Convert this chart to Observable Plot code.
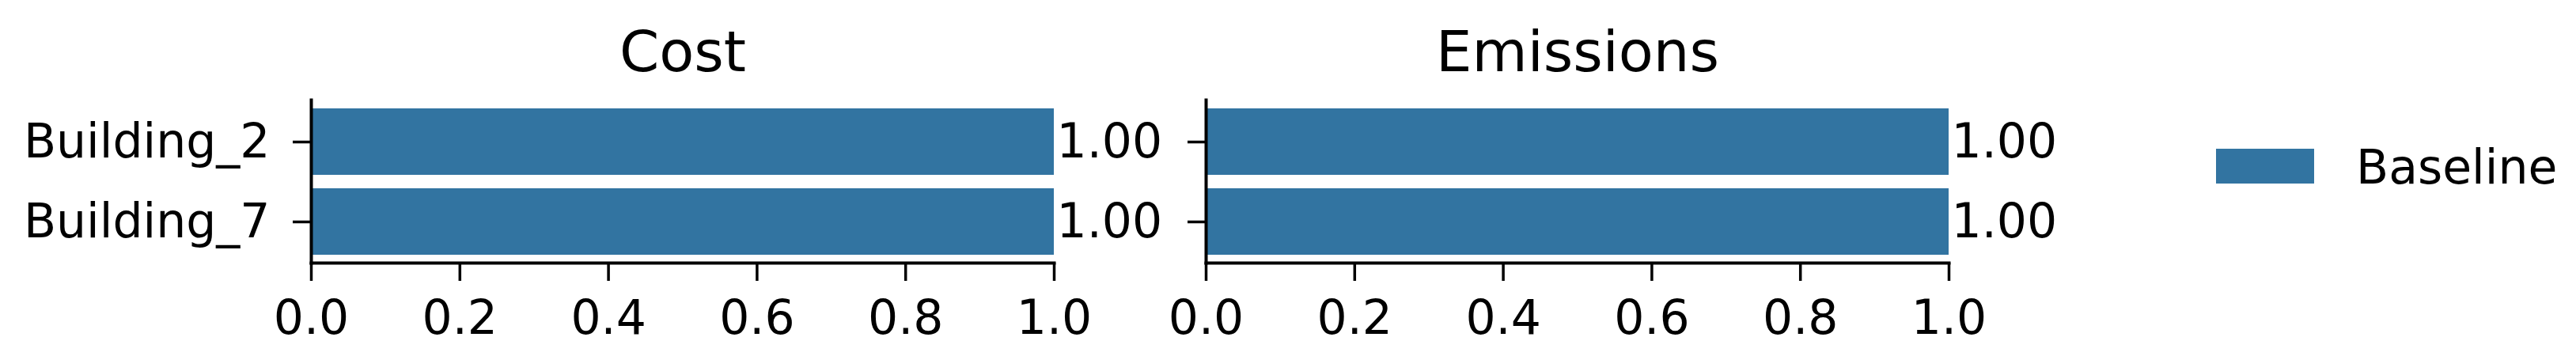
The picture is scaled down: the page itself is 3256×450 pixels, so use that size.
<!DOCTYPE html>
<html>
<head>
<meta charset="utf-8">
<script src="https://cdn.jsdelivr.net/npm/d3@7"></script>
<script src="https://cdn.jsdelivr.net/npm/@observablehq/plot@0.6"></script>
<style>
  body { margin: 0; background: #fff; }
  #chart { position: relative; width: 3256px; height: 450px; background: #fff; font-family: "DejaVu Sans", sans-serif; }
  #chart .panel { position: absolute; top: 0; }
  #chart .panel svg { background: transparent; }
  .legend { position: absolute; left: 2801px; top: 0; height: 450px; }
  .legend .sw { position: absolute; left: 0; top: 188px; width: 124px; height: 44px; }
  .legend .lb { position: absolute; left: 177px; top: 181px; font-size: 60px; line-height: 60px; color: #000; white-space: nowrap; font-family: "DejaVu Sans", sans-serif; }
</style>
</head>
<body>
<div id="chart"></div>
<script>
// ---- data ----
const buildings = ["Building_2", "Building_7"];
const metrics = ["Cost", "Emissions"];
const series = ["Baseline"];
const seriesColors = ["#3274a1"];
const costValues = [1.00, 1.00];
const emissionValues = [1.00, 1.00];
const xTicks = [0, 0.2, 0.4, 0.6, 0.8, 1.0];

const panelValues = [costValues, emissionValues];

// ---- layout of the two panels ----
const panelLayout = [
  {left: 0, width: 1470, marginLeft: 393, marginRight: 138, showLabels: true},
  {left: 1470, width: 1200, marginLeft: 54, marginRight: 207, showLabels: false}
];

const chart = document.getElementById("chart");

metrics.forEach((metric, mi) => {
  const L = panelLayout[mi];
  const rows = buildings.map((b, i) => ({building: b, value: panelValues[mi][i], series: series[0]}));
  const plot = Plot.plot({
    width: L.width,
    height: 450,
    marginLeft: L.marginLeft,
    marginRight: L.marginRight,
    marginTop: 126,
    marginBottom: 118,
    style: {fontFamily: "DejaVu Sans, sans-serif", background: "transparent", color: "#000", overflow: "visible"},
    x: {domain: [0, 1], axis: null},
    y: {domain: buildings, paddingInner: 0.17, paddingOuter: 0.095, axis: null},
    color: {domain: series, range: seriesColors},
    marks: [
      Plot.barX(rows, {x: "value", y: "building", fill: "series"}),
      Plot.text(rows, {x: "value", y: "building", text: d => d.value.toFixed(2), textAnchor: "start", dx: 3, fontSize: 60, fill: "#000"}),
      Plot.frame({anchor: "bottom", stroke: "#000", strokeWidth: 4}),
      Plot.frame({anchor: "left", stroke: "#000", strokeWidth: 4}),
      Plot.axisX({ticks: xTicks, tickFormat: d3.format(".1f"), tickSize: 23, tickPadding: 24, fontSize: 60, strokeWidth: 3.5, stroke: "#000", fill: "#000", label: null}),
      Plot.axisY({tickSize: 23, tickPadding: 29, fontSize: 60, strokeWidth: 3.5, stroke: "#000", fill: "#000", label: null,
        tickFormat: L.showLabels ? (d => d) : (() => "")}),
      Plot.text([metric], {frameAnchor: "top", lineAnchor: "bottom", dy: -37, fontSize: 72, fill: "#000"})
    ]
  });
  const wrap = document.createElement("div");
  wrap.className = "panel";
  wrap.style.left = L.left + "px";
  wrap.style.width = L.width + "px";
  wrap.appendChild(plot);
  chart.appendChild(wrap);
});

// ---- legend ----
const legend = document.createElement("div");
legend.className = "legend";
series.forEach((s, i) => {
  const sw = document.createElement("div");
  sw.className = "sw";
  sw.style.background = seriesColors[i];
  const lb = document.createElement("div");
  lb.className = "lb";
  lb.textContent = s;
  legend.appendChild(sw);
  legend.appendChild(lb);
});
chart.appendChild(legend);
</script>
</body>
</html>
